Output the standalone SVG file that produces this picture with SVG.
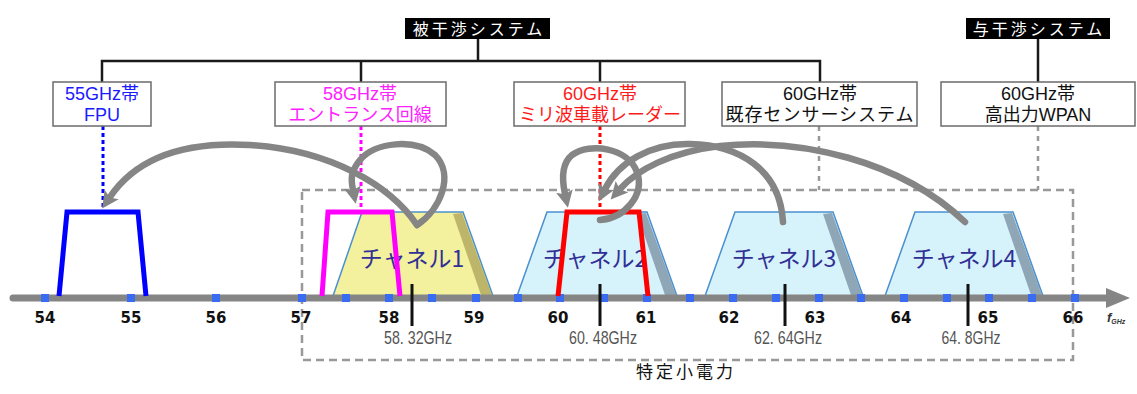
<svg xmlns="http://www.w3.org/2000/svg" width="1137" height="394" viewBox="0 0 1137 394">
<defs>
<style>
.box{fill:#fff;stroke:#6b6b6b;stroke-width:1.5}
.lbl{font-family:"Liberation Sans","Noto Sans CJK JP",sans-serif;font-size:18px;text-anchor:middle}
.hdr{font-family:"Noto Sans CJK JP",sans-serif;font-size:16px;fill:#fff;text-anchor:middle;letter-spacing:3px}
.conn{stroke:#1a1a1a;stroke-width:2.5;fill:none}
.tick{font-family:"DejaVu Sans","Liberation Sans",sans-serif;font-weight:bold;font-size:15px;fill:#111;text-anchor:middle}
.freq{font-family:"Liberation Sans",Arial,sans-serif;font-size:18.5px;fill:#555;text-anchor:middle}
.chname{font-family:"Noto Sans CJK JP",sans-serif;font-size:23px;fill:#303095;text-anchor:middle}
.chY{fill:#f4f19e;stroke:#4a90d0;stroke-width:1.5}
.chB{fill:#d6f2fb;stroke:#4a90d0;stroke-width:1.5}
.bevY{fill:#bdb56a}
.bevB{fill:#8fa6b6}
.sq{fill:#3a6cf2}
.arc{fill:none;stroke:#858585;stroke-width:6.5;stroke-linecap:round}
.dash{fill:none;stroke:#999;stroke-width:2.5;stroke-dasharray:8 5}
.dot{fill:none;stroke-width:3;stroke-dasharray:4 3}
.ctick{stroke:#111;stroke-width:3}
</style>
<marker id="ah" viewBox="0 -9 18 18" markerWidth="18" markerHeight="18" refX="3" refY="0" orient="auto" markerUnits="userSpaceOnUse">
<path d="M0,-8.5 L17,0 L0,8.5 L3.5,0 Z" fill="#858585"/>
</marker>
</defs>

<!-- dashed region -->
<rect class="dash" x="302" y="190" width="771" height="170"/>
<text x="686" y="378" font-family="Noto Sans CJK JP,sans-serif" font-size="17" fill="#111" text-anchor="middle" letter-spacing="3">特定小電力</text>

<!-- channels -->
<g id="ch1">
<polygon class="chY" points="333,296 362,212 463,212 493,296"/>
<polygon class="bevY" points="453,214 462,213 492,295 481,295"/>
<text class="chname" x="412" y="267">チャネル1</text>
</g>
<g id="ch2">
<polygon class="chB" points="517,296 547,212 647,212 677,296"/>
<polygon class="bevB" points="637,214 646,213 676,295 665,295"/>
<text class="chname" x="595" y="267">チャネル2</text>
</g>
<g id="ch3">
<polygon class="chB" points="705,296 735,212 833,212 863,296"/>
<polygon class="bevB" points="823,214 832,213 862,295 851,295"/>
<text class="chname" x="784" y="267">チャネル3</text>
</g>
<g id="ch4">
<polygon class="chB" points="885,296 915,212 1013,212 1043,296"/>
<polygon class="bevB" points="1003,214 1012,213 1042,295 1031,295"/>
<text class="chname" x="964" y="267">チャネル4</text>
</g>

<!-- axis -->
<g id="axis">
<line x1="13" y1="298" x2="1110" y2="298" stroke="#858585" stroke-width="7" stroke-linecap="round"/>
<polygon points="1106,288 1130,298 1106,308" fill="#858585"/>
<g class="sq">
<rect x="41" y="294" width="8" height="8"/><rect x="127" y="294" width="8" height="8"/><rect x="212" y="294" width="8" height="8"/>
<rect x="298" y="294" width="8" height="8"/><rect x="342" y="294" width="8" height="8"/><rect x="385" y="294" width="8" height="8"/>
<rect x="428" y="294" width="8" height="8"/><rect x="472" y="294" width="8" height="8"/><rect x="514" y="294" width="8" height="8"/>
<rect x="556" y="294" width="8" height="8"/><rect x="600" y="294" width="8" height="8"/><rect x="643" y="294" width="8" height="8"/>
<rect x="686" y="294" width="8" height="8"/><rect x="729" y="294" width="8" height="8"/><rect x="772" y="294" width="8" height="8"/>
<rect x="815" y="294" width="8" height="8"/><rect x="857" y="294" width="8" height="8"/><rect x="900" y="294" width="8" height="8"/>
<rect x="943" y="294" width="8" height="8"/><rect x="985" y="294" width="8" height="8"/><rect x="1028" y="294" width="8" height="8"/>
<rect x="1071" y="294" width="8" height="8"/>
</g>
<text class="tick" x="45" y="323">54</text>
<text class="tick" x="131" y="323">55</text>
<text class="tick" x="216" y="323">56</text>
<text class="tick" x="301" y="323">57</text>
<text class="tick" x="389" y="323">58</text>
<text class="tick" x="474" y="323">59</text>
<text class="tick" x="558" y="323">60</text>
<text class="tick" x="646" y="323">61</text>
<text class="tick" x="729" y="323">62</text>
<text class="tick" x="815" y="323">63</text>
<text class="tick" x="901" y="323">64</text>
<text class="tick" x="988" y="323">65</text>
<text class="tick" x="1073" y="323">66</text>
<text x="1107" y="322" font-family="Liberation Sans,Arial,sans-serif" font-style="italic" font-weight="bold" font-size="13" fill="#333">f<tspan font-size="7" dy="2">GHz</tspan></text>
</g>

<!-- center frequency ticks -->
<g id="cf">
<line class="ctick" x1="412" y1="284" x2="412" y2="326"/>
<line class="ctick" x1="600" y1="284" x2="600" y2="326"/>
<line class="ctick" x1="785" y1="284" x2="785" y2="326"/>
<line class="ctick" x1="968" y1="284" x2="968" y2="326"/>
<text class="freq" x="418" y="344" textLength="68" lengthAdjust="spacingAndGlyphs">58. 32GHz</text>
<text class="freq" x="603" y="344" textLength="68" lengthAdjust="spacingAndGlyphs">60. 48GHz</text>
<text class="freq" x="788" y="344" textLength="68" lengthAdjust="spacingAndGlyphs">62. 64GHz</text>
<text class="freq" x="971" y="344" textLength="59" lengthAdjust="spacingAndGlyphs">64. 8GHz</text>
</g>

<!-- system spectra -->
<path id="fpu-spec" d="M59,296 L67,212 L138,212 L146,296" fill="none" stroke="#0000ff" stroke-width="5"/>
<path id="ent-spec" d="M322,296 L328,212 L392,212 L400,296" fill="none" stroke="#ff00ff" stroke-width="5"/>
<path id="radar-spec" d="M558,296 L567,212 L639,212 L648,296" fill="none" stroke="#ff0000" stroke-width="5"/>

<!-- top hierarchy -->
<g id="hdr1">
<rect x="405" y="18" width="145" height="21" fill="#000"/>
<text class="hdr" x="479" y="35">被干渉システム</text>
</g>
<g id="hdr2">
<rect x="966" y="18" width="144" height="21" fill="#000"/>
<text class="hdr" x="1039" y="35">与干渉システム</text>
</g>
<g id="connectors">
<path class="conn" d="M478,39 V61 M102,82 V61 H820 V82 M361,61 V82 M600,61 V82 M1038,39 V82"/>
<line class="dot" x1="103" y1="126" x2="103" y2="210" stroke="#0000ff"/>
<line class="dot" x1="361" y1="126" x2="361" y2="211" stroke="#ff00ff"/>
<line class="dot" x1="600" y1="126" x2="600" y2="211" stroke="#ff0000"/>
<line class="dash" x1="819" y1="126" x2="819" y2="190" style="stroke-dasharray:5 5"/>
<line class="dash" x1="1038" y1="126" x2="1038" y2="190" style="stroke-dasharray:5 5"/>
<path class="arc" marker-end="url(#ah)" d="M417,225 C390,185 330,150 250,145 C180,141 135,160 110,197"/>
<path class="arc" marker-end="url(#ah)" d="M417,225 C440,210 455,175 435,155 C415,138 375,142 360,160 C350,172 351,180 353,190"/>
<path class="arc" marker-end="url(#ah)" d="M600,220 C625,218 645,195 637,172 C628,148 590,142 572,155 C561,164 562,180 565,194"/>
<path class="arc" marker-end="url(#ah)" d="M783,222 C780,170 740,145 690,144 C650,143 618,163 605,189"/>
<path class="arc" marker-end="url(#ah)" d="M965,222 C900,160 800,138 720,146 C670,152 637,170 620,189"/>
</g>

<!-- system boxes -->
<g id="fpu">
<rect class="box" x="53" y="82" width="98" height="44"/>
<text class="lbl" x="102" y="100" fill="#1a1aff">55GHz帯</text>
<text class="lbl" x="102" y="121" fill="#1a1aff">FPU</text>
</g>
<g id="entrance">
<rect class="box" x="275" y="82" width="171" height="44"/>
<text class="lbl" x="360" y="100" fill="#ff22ff">58GHz帯</text>
<text class="lbl" x="360" y="121" fill="#ff22ff">エントランス回線</text>
</g>
<g id="radar">
<rect class="box" x="514" y="82" width="171" height="44"/>
<text class="lbl" x="600" y="100" fill="#ff1a1a">60GHz帯</text>
<text class="lbl" x="600" y="121" fill="#ff1a1a">ミリ波車載レーダー</text>
</g>
<g id="sensor">
<rect class="box" x="722" y="82" width="195" height="44"/>
<text class="lbl" x="820" y="100" fill="#111">60GHz帯</text>
<text class="lbl" x="820" y="121" fill="#111" style="letter-spacing:1px">既存センサーシステム</text>
</g>
<g id="wpan">
<rect class="box" x="941" y="82" width="194" height="44"/>
<text class="lbl" x="1038" y="100" fill="#111">60GHz帯</text>
<text class="lbl" x="1038" y="121" fill="#111">高出力WPAN</text>
</g>
</svg>
